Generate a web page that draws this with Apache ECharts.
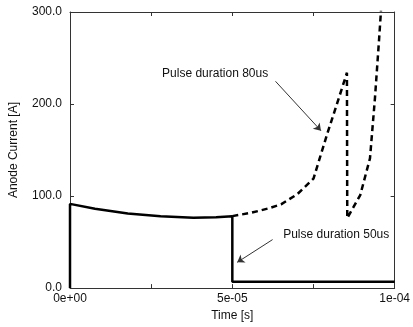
<!DOCTYPE html>
<html>
<head>
<meta charset="utf-8">
<script src="https://cdn.jsdelivr.net/npm/echarts@6/dist/echarts.min.js"></script>
<style>html,body{margin:0;padding:0;background:#fff;}#c{width:413px;height:327px;}</style>
</head>
<body>
<div id="c"></div>
<script>
// Time [s], Anode current [A]
const pulse50Time = [0, 0, 7.7e-6, 17.8e-6, 27.9e-6, 38e-6, 45e-6, 50e-6, 50e-6, 100e-6];
const pulse50Curr = [0, 91.5, 86.3, 81.0, 78.2, 76.5, 77.0, 78.2, 7.0, 7.0];
const pulse80Time = [50e-6, 56e-6, 61e-6, 65e-6, 70e-6, 75e-6, 79.4e-6, 82.4e-6, 85.3e-6, 85.4e-6, 89.4e-6, 92.4e-6, 93.9e-6, 95.2e-6, 95.8e-6];
const pulse80Curr = [78.2, 82.0, 86.5, 91.0, 102.0, 119.0, 169.5, 202.0, 234.0, 76.0, 101.0, 141.0, 205.0, 270.0, 302.0];
const xTickLabels = {0: '0e+00', 2: '5e-05', 4: '1e-04'};
const yTickValues = [0, 100, 200, 300];
const annot80 = {text: 'Pulse duration 80us', at: [44.7e-6, 233], from: [63.3e-6, 224.7], to: [77.3e-6, 171]};
const annot50 = {text: 'Pulse duration 50us', at: [82e-6, 58], from: [62.4e-6, 52.7], to: [51.5e-6, 28]};

const zip = (a, b) => a.map((v, i) => [v, b[i]]);
const font = 'Liberation Sans, Arial, sans-serif';
const axisLine = {show: true, onZero: false, lineStyle: {color: '#333', width: 1}};
const tick = {show: true, inside: true, length: 4, lineStyle: {color: '#333'}};

function annotSeries(a) {
  return {
    type: 'line', data: [], silent: true,
    markPoint: {
      symbol: 'circle', symbolSize: 0,
      label: {show: true, position: 'inside', formatter: a.text, color: '#111', fontFamily: font, fontSize: 12},
      data: [{coord: a.at}]
    },
    markLine: {
      symbol: ['none', 'arrow'], symbolSize: 7, silent: true,
      label: {show: false},
      lineStyle: {color: '#333', width: 1, type: 'solid'},
      data: [[{coord: a.from}, {coord: a.to}]]
    }
  };
}

const chart = echarts.init(document.getElementById('c'));
chart.setOption({
  animation: false,
  backgroundColor: '#fff',
  grid: {left: 68, right: 14, top: 12, bottom: 36},
  xAxis: [{
    type: 'value', min: 0, max: 1e-4, interval: 2.5e-5,
    name: 'Time [s]', nameLocation: 'middle', nameGap: 21,
    nameTextStyle: {fontFamily: font, fontSize: 12, color: '#111'},
    axisLine: axisLine, axisTick: tick, splitLine: {show: false},
    axisLabel: {
      fontFamily: font, fontSize: 12, color: '#111', margin: 5,
      formatter: v => { const k = Math.round(v / 2.5e-5); return xTickLabels[k] || ''; }
    }
  }, {
    type: 'value', position: 'top', min: 0, max: 1e-4, interval: 2.5e-5,
    axisLine: axisLine, axisTick: tick, axisLabel: {show: false}, splitLine: {show: false}
  }],
  yAxis: [{
    type: 'value', min: 0, max: 300, interval: 100,
    name: 'Anode Current [A]', nameLocation: 'middle', nameGap: 50,
    nameTextStyle: {fontFamily: font, fontSize: 12, color: '#111'},
    axisLine: axisLine, axisTick: tick, splitLine: {show: false},
    axisLabel: {fontFamily: font, fontSize: 12, color: '#111', margin: 8, formatter: v => v.toFixed(1)}
  }, {
    type: 'value', position: 'right', min: 0, max: 300, interval: 100,
    axisLine: axisLine, axisTick: tick, axisLabel: {show: false}, splitLine: {show: false}
  }],
  series: [
    {
      type: 'line', data: zip(pulse50Time, pulse50Curr), showSymbol: false, clip: true,
      lineStyle: {color: '#000', width: 2.5, type: 'solid'}
    },
    {
      type: 'line', data: zip(pulse80Time, pulse80Curr), showSymbol: false, clip: true,
      lineStyle: {color: '#000', width: 2.5, type: [6, 4]}
    },
    annotSeries(annot80),
    annotSeries(annot50)
  ]
});
</script>
</body>
</html>
